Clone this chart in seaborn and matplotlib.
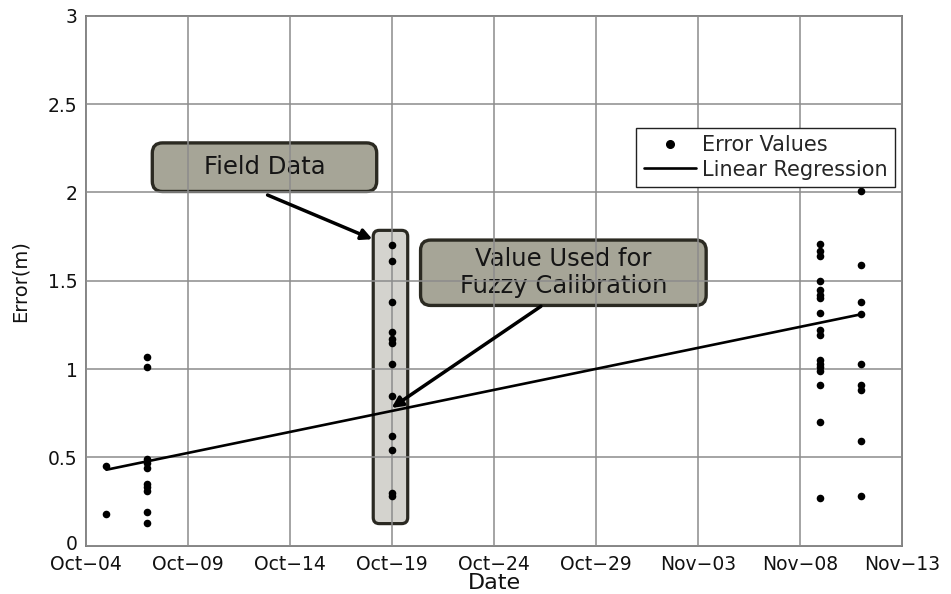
import matplotlib
matplotlib.use("Agg")
import matplotlib.pyplot as plt
import matplotlib.dates as mdates
import matplotlib.transforms as mtransforms
from matplotlib.lines import Line2D
from matplotlib.patches import FancyBboxPatch
import pandas as pd
import seaborn as sns

YEAR = 2011

# Measured position errors (m) for each survey date
survey_dates = ["10-05", "10-07", "10-19", "11-09", "11-11"]
errors_oct05 = [0.45, 0.18]
errors_oct07 = [1.07, 1.01, 0.49, 0.47, 0.44, 0.35, 0.33, 0.31, 0.19, 0.13]
errors_oct19 = [1.70, 1.61, 1.38, 1.21, 1.17, 1.15, 1.03, 0.85, 0.62, 0.54, 0.30, 0.28]
errors_nov09 = [1.71, 1.67, 1.64, 1.50, 1.45, 1.42, 1.40, 1.32, 1.22, 1.19,
                1.05, 1.03, 1.01, 0.99, 0.91, 0.70, 0.27]
errors_nov11 = [2.01, 1.59, 1.38, 1.31, 1.03, 0.91, 0.88, 0.59, 0.28]

# Linear trend evaluated at the first and last survey dates
regression_dates = ["10-05", "11-11"]
regression_errors = [0.43, 1.31]

tick_dates = ["10-04", "10-09", "10-14", "10-19", "10-24", "10-29", "11-03", "11-08", "11-13"]
tick_labels = ["Oct\u221204", "Oct\u221209", "Oct\u221214", "Oct\u221219", "Oct\u221224",
               "Oct\u221229", "Nov\u221203", "Nov\u221208", "Nov\u221213"]
y_ticks = [0, 0.5, 1, 1.5, 2, 2.5, 3]
y_tick_labels = ["0", "0.5", "1", "1.5", "2", "2.5", "3"]


def to_date(md):
    return pd.Timestamp(f"{YEAR}-{md}")


groups = [errors_oct05, errors_oct07, errors_oct19, errors_nov09, errors_nov11]
df = pd.DataFrame(
    [(to_date(d), e) for d, g in zip(survey_dates, groups) for e in g],
    columns=["date", "error"],
)
reg_df = pd.DataFrame({"date": [to_date(d) for d in regression_dates],
                       "error": regression_errors})

sns.set_style("white")
plt.rcParams["font.family"] = ["DejaVu Sans"]

fig = plt.figure(figsize=(9.51, 5.94), dpi=100)
ax = fig.add_axes([86 / 951, 1 - 545.7 / 594, 816 / 951, 530 / 594])

sns.lineplot(data=reg_df, x="date", y="error", color="black", linewidth=1.9,
             ax=ax, zorder=3)
sns.scatterplot(data=df, x="date", y="error", color="black", s=30, linewidth=0,
                ax=ax, zorder=4)

ax.set_xlim(to_date(tick_dates[0]), to_date(tick_dates[-1]))
ax.set_ylim(y_ticks[0], y_ticks[-1])
ax.set_xticks([to_date(d) for d in tick_dates])
ax.set_xticklabels(tick_labels)
ax.set_yticks(y_ticks)
ax.set_yticklabels(y_tick_labels)

# grid above the shaded boxes so lines show through them
ax.set_axisbelow(False)
ax.grid(True, color="#8c8c8c", linewidth=1.1)
for s in ax.spines.values():
    s.set_color("#7a7a7a")
    s.set_linewidth(1.3)
ax.tick_params(direction="in", length=4, color="#7a7a7a", labelsize=13.5,
               labelcolor="#111111")
ax.tick_params(axis="x", pad=7)
ax.tick_params(axis="y", pad=6)

# lift the origin label clear of the first date label
zero_label = ax.get_yticklabels()[0]
zero_label.set_transform(zero_label.get_transform() +
                         mtransforms.ScaledTranslation(0, 3 / 100, fig.dpi_scale_trans))

ax.set_xlabel("Date", fontsize=16, labelpad=-1, color="#111111")
ax.set_ylabel("Error(m)", fontsize=14, labelpad=13, color="#111111")

# pixel scales for circular corner rounding in data space
px_day = 816 / 40
px_unit = 530 / 3
aspect = px_day / px_unit
x0 = mdates.date2num(to_date(tick_dates[0]))

# highlight around the field-data column
ax.add_patch(FancyBboxPatch(
    (x0 + 14.08, 0.125), 1.69, 1.66,
    boxstyle="round,pad=0,rounding_size=0.3", mutation_aspect=aspect,
    facecolor="#d4d3ce", edgecolor="#2a2922", linewidth=2.3, zorder=1,
    transform=ax.transData))

# callout boxes
callouts = [
    ("Field Data", (3.25, 2.005), (11.0, 0.275)),
    ("Value Used for\nFuzzy Calibration", (16.4, 1.36), (14.0, 0.37)),
]
for text, (bx, by), (bw, bh) in callouts:
    ax.add_patch(FancyBboxPatch(
        (x0 + bx, by), bw, bh,
        boxstyle="round,pad=0,rounding_size=0.5", mutation_aspect=aspect,
        facecolor="#a6a597", edgecolor="#2b2a22", linewidth=2.4, zorder=1,
        transform=ax.transData))
    ax.text(x0 + bx + bw / 2, by + bh / 2, text, ha="center", va="center",
            fontsize=17.5, color="#151515", linespacing=1.15, zorder=2)

arrow_kw = dict(arrowstyle="-|>", color="black", lw=2.5, mutation_scale=16,
                shrinkA=0, shrinkB=0)
ax.annotate("", xy=(x0 + 14.04, 1.735), xytext=(x0 + 8.9, 1.985),
            arrowprops=arrow_kw, zorder=5)
ax.annotate("", xy=(x0 + 14.98, 0.78), xytext=(x0 + 22.3, 1.355),
            arrowprops=arrow_kw, zorder=5)

handles = [
    Line2D([], [], marker="o", linestyle="none", color="black", markersize=5.5),
    Line2D([], [], color="black", linewidth=1.9),
]
leg = ax.legend(handles, ["Error Values", "Linear Regression"], loc="upper right",
                bbox_to_anchor=(0.9914, 0.788), borderaxespad=0, fontsize=15,
                handlelength=2.5, handletextpad=0.3, labelspacing=0.2,
                borderpad=0.35, fancybox=False, framealpha=1, edgecolor="#222222")
leg.get_frame().set_linewidth(1.0)
leg.set_zorder(6)

fig.savefig("out.png", dpi=100, facecolor="white")
